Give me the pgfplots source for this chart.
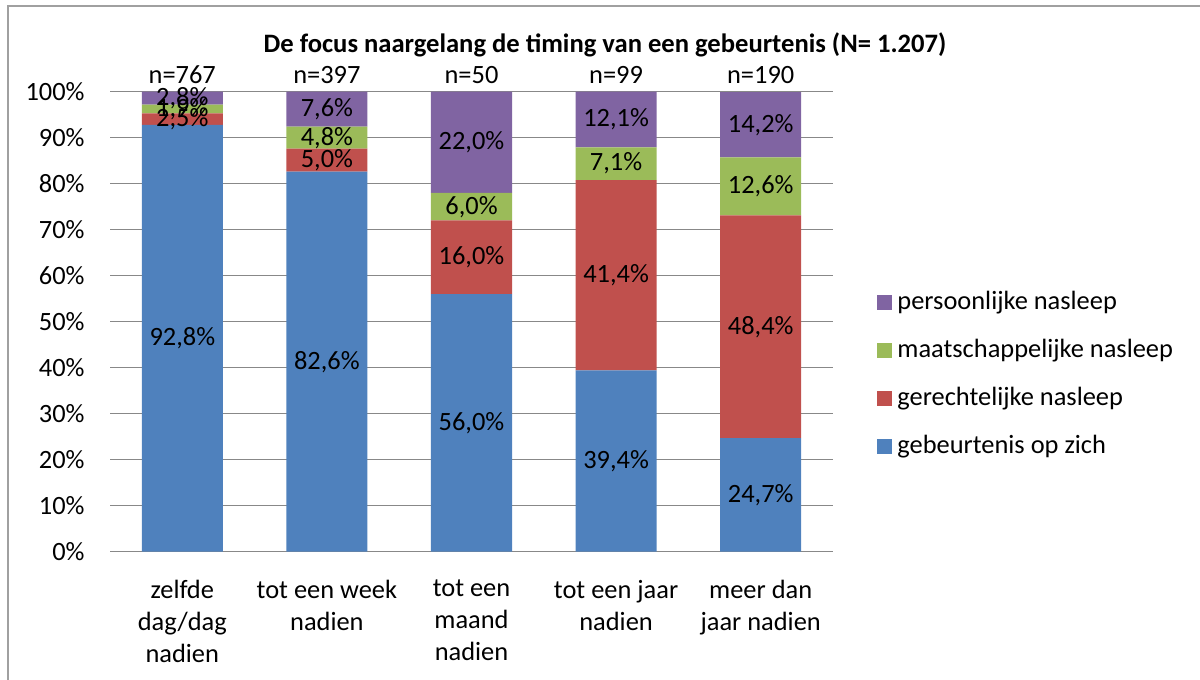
\documentclass[border=0pt]{standalone}
\usepackage{pgfplots}
\pgfplotsset{compat=1.18}
\usepackage{fontspec}
\setmainfont{Carlito}
\definecolor{cblue}{HTML}{4F81BD}
\definecolor{cred}{HTML}{C0504D}
\definecolor{cgreen}{HTML}{9BBB59}
\definecolor{cpurple}{HTML}{8064A2}
\definecolor{cgrid}{HTML}{888888}
\newcommand{\lf}{\fontsize{13.2}{16}\selectfont}
\begin{document}
\begin{tikzpicture}[x=1pt,y=1pt]
\path[use as bounding box] (0,0) rectangle (600,340);
\draw[cgrid!80, line width=1pt] (4,0) -- (4,337.2) -- (600,337.2);
\node[font=\bfseries\fontsize{13.3}{15}\selectfont, inner sep=0] at (302.5,317.5) {De focus naargelang de timing van een gebeurtenis (N= 1.207)};
\begin{axis}[
  at={(55pt,64.15pt)}, anchor=south west,
  width=361.5pt, height=230pt, scale only axis,
  ybar stacked, bar width=40.5pt,
  xmin=-0.5, xmax=4.5, ymin=0, ymax=100,
  ytick={0,10,...,100},
  xtick={0,1,2,3,4},
  xticklabels={{zelfde\\dag/dag\\nadien},{tot een week\\nadien},{tot een\\maand\\nadien},{tot een jaar\\nadien},{meer dan\\jaar nadien}},
  xticklabel style={align=center, font=\lf, anchor=north, inner sep=0pt, yshift=-14pt},
  yticklabel={\pgfmathprintnumber{\tick}\%},
  yticklabel style={font=\lf, anchor=east, inner sep=0pt, xshift=-12.5pt},
  /pgf/number format/assume math mode=true,
  axis line style={draw=none},
  major tick length=0pt,
  ymajorgrids, grid style={cgrid, line width=0.7pt},
  legend style={at={(1.0609,0.385)}, anchor=west, draw=none, fill=none, inner sep=0pt,
    font=\lf, row sep=12pt, nodes={inner sep=0pt, text height=9.3pt, text depth=2.7pt},
    /tikz/every odd column/.append style={column sep=2.5pt}},
  legend cell align=left,
  reverse legend,
  legend image code/.code={\fill[#1,draw=none] (0pt,-3.75pt) rectangle (7.5pt,3.75pt);},
]
\addplot[fill=cblue, draw=none] coordinates {(0,92.8) (1,82.6) (2,56.0) (3,39.4) (4,24.7)};
\addlegendentry{gebeurtenis op zich}
\addplot[fill=cred, draw=none] coordinates {(0,2.5) (1,5.0) (2,16.0) (3,41.4) (4,48.4)};
\addlegendentry{gerechtelijke nasleep}
\addplot[fill=cgreen, draw=none] coordinates {(0,1.9) (1,4.8) (2,6.0) (3,7.1) (4,12.6)};
\addlegendentry{maatschappelijke nasleep}
\addplot[fill=cpurple, draw=none] coordinates {(0,2.8) (1,7.6) (2,22.0) (3,12.1) (4,14.2)};
\addlegendentry{persoonlijke nasleep}
\end{axis}
\begin{axis}[
  at={(55pt,64.15pt)}, anchor=south west,
  width=361.5pt, height=230pt, scale only axis,
  xmin=-0.5, xmax=4.5, ymin=0, ymax=100,
  hide axis, clip=false,
  point meta=explicit symbolic,
  every node near coord/.append style={anchor=center, font=\lf, inner sep=0pt, text=black},
]
\addplot[draw=none, mark=none, nodes near coords={\pgfplotspointmeta\%}] table[meta=l] {
x y l
0 46.4 92,8
0 94.05 2,5
0 96.25 1,9
0 98.6 2,8
1 41.3 82,6
1 85.1 5,0
1 90.0 4,8
1 96.2 7,6
2 28.0 56,0
2 64.0 16,0
2 75.0 6,0
2 89.0 22,0
3 19.7 39,4
3 60.1 41,4
3 84.35 7,1
3 93.95 12,1
4 12.35 24,7
4 48.9 48,4
4 79.4 12,6
4 92.8 14,2
};
\addplot[draw=none, mark=none, nodes near coords={n=\pgfplotspointmeta}] table[meta=l] {
x y l
0 103.7 767
1 103.7 397
2 103.7 50
3 103.7 99
4 103.7 190
};
\end{axis}
\end{tikzpicture}
\end{document}
